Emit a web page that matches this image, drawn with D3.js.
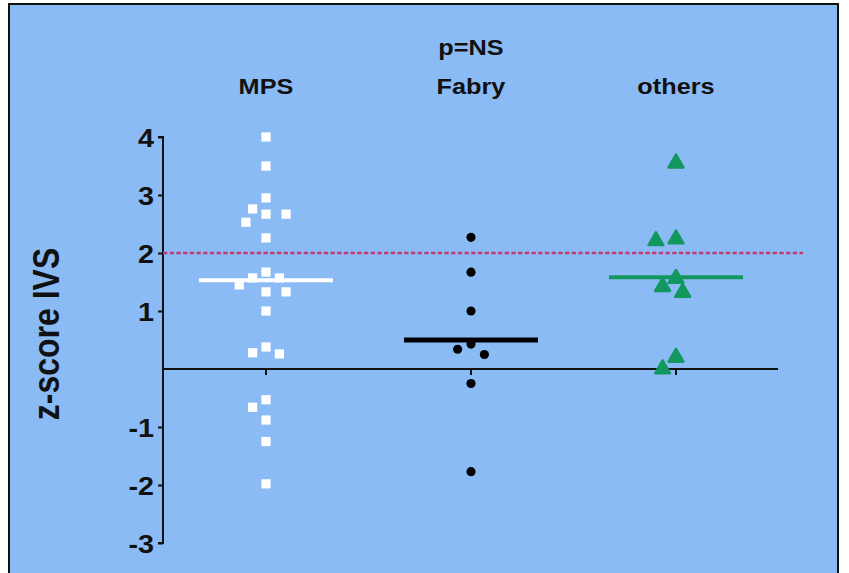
<!DOCTYPE html>
<html>
<head>
<meta charset="utf-8">
<script src="https://cdn.jsdelivr.net/npm/d3@7"></script>
<style>
  html, body { margin: 0; padding: 0; background: #fff; }
  svg { display: block; font-family: "Liberation Sans", Arial, sans-serif; }
</style>
</head>
<body>
<div id="chart"></div>
<script>
const groups = ["MPS", "Fabry", "others"];

const mpsValues = [4.0, 3.5, 2.95, 2.76, 2.67, 2.67, 2.53, 2.26, 1.67, 1.57, 1.57, 1.45,
  1.33, 1.33, 1.0, 0.38, 0.28, 0.26, -0.53, -0.66, -0.88, -1.25, -1.98];
const fabryValues = [2.27, 1.67, 1.0, 0.43, 0.34, 0.25, -0.25, -1.77];
const othersValues = [3.55, 2.24, 2.21, 1.56, 1.42, 1.32, 0.2, 0.0];

const centerLines = [1.53, 0.5, 1.58];
const yTicks = [-3, -2, -1, 1, 2, 3, 4];
const cutoff = 2;

const W = 849, H = 573;
const stretch = 1.15; // the source picture is a bit wider than tall
const svg = d3.select("#chart").append("svg").attr("width", W).attr("height", H);

svg.append("rect")
  .attr("x", 9).attr("y", 4).attr("width", 829).attr("height", 580)
  .attr("fill", "#8bbbf5").attr("stroke", "#111").attr("stroke-width", 2);

const y = d3.scaleLinear().domain([-3, 4]).range([543, 137]);
const x = d3.scalePoint().domain(groups).range([266, 676]);
const axisX = 163;

// y axis
const yAxis = svg.append("g")
  .attr("transform", `translate(${axisX},0)`)
  .call(d3.axisLeft(y).tickValues(yTicks).tickSize(5).tickPadding(3).tickFormat(d => String(d)));
yAxis.select(".domain").attr("stroke", "#111").attr("stroke-width", 2).attr("d", `M-5,${y(-3)}H0V${y(4)}H-5`);
yAxis.selectAll(".tick line").attr("stroke", "#111").attr("stroke-width", 2);
yAxis.selectAll(".tick text")
  .attr("fill", "#111").style("font-size", "25px").style("font-weight", "bold")
  .attr("x", null).attr("dy", null)
  .attr("transform", `translate(-9,9) scale(${stretch},1)`);

// zero line with category ticks
svg.append("line")
  .attr("x1", axisX).attr("x2", 778).attr("y1", y(0)).attr("y2", y(0))
  .attr("stroke", "#111").attr("stroke-width", 2);
svg.selectAll(".cat-tick")
  .data(groups)
  .join("line")
  .attr("x1", d => x(d)).attr("x2", d => x(d))
  .attr("y1", y(0)).attr("y2", y(0) + 6)
  .attr("stroke", "#111").attr("stroke-width", 2);

// cutoff line
svg.append("line")
  .attr("x1", axisX).attr("x2", 803).attr("y1", y(cutoff)).attr("y2", y(cutoff))
  .attr("stroke", "#c23a72").attr("stroke-width", 2.4).attr("stroke-dasharray", "4.3,2.4");

// axis title
svg.append("text")
  .attr("transform", `translate(59,${(y(-3) + y(4)) / 2 - 6}) scale(${stretch},1) rotate(-90)`)
  .attr("text-anchor", "middle")
  .style("font-size", "32px").style("font-weight", "bold").attr("fill", "#111")
  .text("z-score IVS");

// headers
svg.append("text")
  .attr("transform", `translate(${x("Fabry")},55) scale(${stretch},1)`)
  .attr("text-anchor", "middle")
  .style("font-size", "22px").style("font-weight", "bold").attr("fill", "#111")
  .text("p=NS");
svg.selectAll(".group-label")
  .data(groups)
  .join("text")
  .attr("transform", d => `translate(${x(d)},94) scale(${stretch},1)`)
  .attr("text-anchor", "middle")
  .style("font-size", "22px").style("font-weight", "bold").attr("fill", "#111")
  .text(d => d);

// simple beeswarm offsets
function swarm(values, diameter, step) {
  const placed = [];
  return values.map(v => {
    const py = y(v);
    let k = 0, off = 0;
    while (true) {
      const cand = k === 0 ? 0 : (k % 2 ? -1 : 1) * Math.ceil(k / 2) * step;
      const hit = placed.some(p => Math.hypot(p.dx - cand, p.py - py) < diameter);
      if (!hit) { off = cand; break; }
      k++;
    }
    placed.push({ dx: off, py });
    return { v, dx: off };
  });
}

const series = [
  { name: "MPS", values: mpsValues, color: "#ffffff", symbol: d3.symbolSquare, size: 85 },
  { name: "Fabry", values: fabryValues, color: "#000000", symbol: d3.symbolCircle, size: 66 },
  { name: "others", values: othersValues, color: "#12975f", symbol: d3.symbolTriangle, size: 95 }
];

series.forEach((s, i) => {
  const pts = swarm(s.values, 14, 6.7);
  svg.append("g").selectAll("path")
    .data(pts)
    .join("path")
    .attr("transform", d => `translate(${x(s.name) + d.dx},${y(d.v)})`)
    .attr("d", d3.symbol().type(s.symbol).size(s.size))
    .attr("fill", s.color)
    .attr("stroke", s.symbol === d3.symbolTriangle ? s.color : "none")
    .attr("stroke-width", 2.5).attr("stroke-linejoin", "round");

  svg.append("line")
    .attr("x1", x(s.name) - 67).attr("x2", x(s.name) + 67)
    .attr("y1", y(centerLines[i])).attr("y2", y(centerLines[i]))
    .attr("stroke", s.color).attr("stroke-width", i === 1 ? 5 : 4);
});
</script>
</body>
</html>
